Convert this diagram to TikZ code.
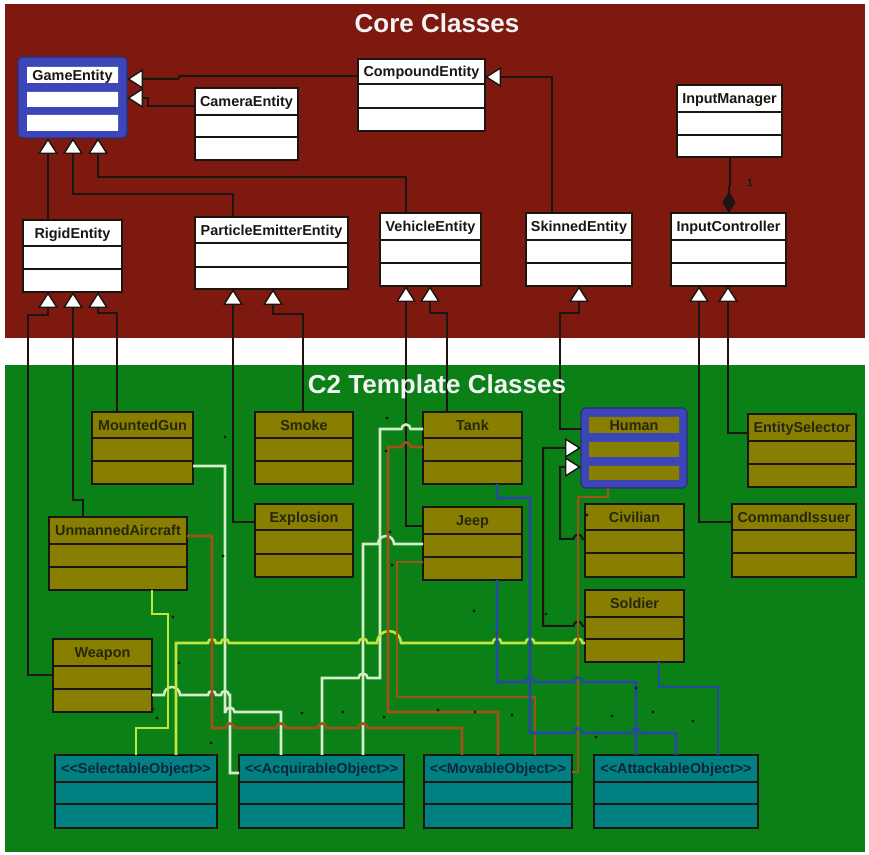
\documentclass[tikz,border=0pt]{standalone}
\usepackage{fontspec}
\newfontfamily\umlfont{Liberation Sans}
\usetikzlibrary{arrows.meta}

\definecolor{corebg}{RGB}{126,25,16}
\definecolor{tplbg}{RGB}{10,128,22}
\definecolor{boxolive}{RGB}{136,126,0}
\definecolor{boxteal}{RGB}{0,128,128}
\definecolor{frameblue}{RGB}{60,70,185}
\definecolor{ink}{RGB}{28,22,18}
\definecolor{paleline}{RGB}{212,238,202}
\definecolor{yellowline}{RGB}{196,230,60}
\definecolor{brownline}{RGB}{160,82,24}
\definecolor{blueline}{RGB}{40,72,165}
\definecolor{navytext}{RGB}{12,36,64}
\definecolor{olivetext}{RGB}{40,38,10}
\definecolor{titletext}{RGB}{244,244,244}

% line jumps on horizontal runs: centre x, y, radius
\newcommand\hopR[3]{-- ({#1-#3},#2) arc[start angle=180,end angle=360,radius=#3]}
\newcommand\hopL[3]{-- ({#1+#3},#2) arc[start angle=0,end angle=-180,radius=#3]}

% class box: name, x1, y1, x2, y2, divider 1, divider 2, label, style
\newcommand\umlclass[9]{%
  \pgfmathsetmacro\clsw{(#4-#2)*0.75}%
  \pgfmathsetmacro\clsh{(#5-#3)*0.75}%
  \node[classbox,#9,minimum width=\clsw pt,minimum height=\clsh pt] (#1) at ({(#2+#4)/2},{(#3+#5)/2}) {};
  \draw[classbox,fill=none] (#2,#6) -- (#4,#6) (#2,#7) -- (#4,#7);
  \node[classname,#9,fill=none,draw=none] (#1-name) at ({(#2+#4)/2},{(#3+#6)/2}) {#8};
}

\tikzset{
  classbox/.style={draw=ink, line width=1.2pt, inner sep=0pt, outer sep=0pt},
  whitecls/.style={fill=white, text=ink},
  olivecls/.style={fill=boxolive, text=olivetext},
  tealcls/.style={fill=boxteal, text=navytext},
  classname/.style={font=\umlfont\bfseries\fontsize{10.8}{12}\selectfont,
    inner sep=0pt, text height=7.7pt, text depth=0pt},
  emphframe/.style={fill=frameblue, draw=frameblue!65!black, line width=0.8pt,
    rounded corners=3.5pt, inner sep=0pt, outer sep=0pt},
  inh/.style={draw=ink, line width=1.5pt, -{Triangle[length=12pt,width=15pt,fill=white,line width=1.1pt]}},
  comp/.style={draw=ink, line width=1.5pt, -{Diamond[length=16pt,width=10pt,fill=ink]}},
  wire/.style={line width=1.9pt},
  palewire/.style={wire, draw=paleline},
  yellowwire/.style={wire, draw=yellowline},
  brownwire/.style={wire, draw=brownline},
  bluewire/.style={wire, draw=blueline},
  sectiontitle/.style={font=\umlfont\bfseries\fontsize{19.5}{22}\selectfont, text=titletext, inner sep=0pt},
}

\begin{document}
\begin{tikzpicture}[x=0.75pt,y=-0.75pt]
\useasboundingbox (0,0) rectangle (869,855);
\fill[white] (0,0) rectangle (869,855);
\fill[corebg] (5,4) rectangle (865,338);
\fill[tplbg] (5,365) rectangle (865,852);

% ---------- core classes ----------
\node[emphframe, minimum width=81.75pt, minimum height=60.75pt] (gameentity) at (72.5,97.5) {};
\fill[white] (27,67) rectangle (118,83) (27,92) rectangle (118,107) (27,115) rectangle (118,131);
\node[classname, text=ink] (gameentity-name) at (72.5,75) {GameEntity};

\umlclass{camera}{195}{88}{298}{160}{115}{137}{CameraEntity}{whitecls}
\umlclass{compound}{358}{59}{485}{131}{84}{108}{CompoundEntity}{whitecls}
\umlclass{inputmanager}{677}{85}{782}{157}{112}{135}{InputManager}{whitecls}
\umlclass{rigid}{23}{220}{122}{292}{246}{269}{RigidEntity}{whitecls}
\umlclass{particle}{195}{217}{348}{289}{243}{267}{ParticleEmitterEntity}{whitecls}
\umlclass{vehicle}{380}{213}{481}{286}{240}{263}{VehicleEntity}{whitecls}
\umlclass{skinned}{526}{213}{632}{286}{240}{263}{SkinnedEntity}{whitecls}
\umlclass{inputctrl}{671}{213}{786}{286}{240}{263}{InputController}{whitecls}

% ---------- template classes ----------
\umlclass{mountedgun}{92}{412}{193}{484}{438}{461}{MountedGun}{olivecls}
\umlclass{smoke}{255}{412}{353}{484}{438}{461}{Smoke}{olivecls}
\umlclass{tank}{423}{412}{522}{484}{438}{461}{Tank}{olivecls}
\umlclass{entitysel}{748}{414}{856}{487}{441}{464}{EntitySelector}{olivecls}
\umlclass{explosion}{255}{504}{353}{577}{530}{554}{Explosion}{olivecls}
\umlclass{jeep}{423}{507}{522}{580}{534}{557}{Jeep}{olivecls}
\umlclass{civilian}{585}{504}{684}{577}{530}{553}{Civilian}{olivecls}
\umlclass{commandiss}{732}{504}{856}{577}{530}{553}{CommandIssuer}{olivecls}
\umlclass{unmanned}{49}{517}{187}{590}{544}{567}{UnmannedAircraft}{olivecls}
\umlclass{soldier}{585}{590}{684}{662}{617}{639}{Soldier}{olivecls}
\umlclass{weapon}{53}{639}{152}{712}{666}{689}{Weapon}{olivecls}

\node[emphframe, minimum width=79.5pt, minimum height=60pt] (human) at (634,448) {};
\fill[boxolive] (589,417) rectangle (679,433) (589,442) rectangle (679,457) (589,466) rectangle (679,480);
\node[classname, text=olivetext] (human-name) at (634,425) {Human};

\umlclass{selectable}{55}{755}{217}{828}{782}{804}{<<SelectableObject>>}{tealcls}
\umlclass{acquirable}{239}{755}{404}{828}{782}{804}{<<AcquirableObject>>}{tealcls}
\umlclass{movable}{424}{755}{572}{828}{782}{804}{<<MovableObject>>}{tealcls}
\umlclass{attackable}{594}{755}{758}{828}{782}{804}{<<AttackableObject>>}{tealcls}

% ---------- generalisations inside the core ----------
\draw[inh] (compound.west |- 0,76) -- (180,76) -- (178,79) -- (gameentity.east |- 0,79);
\draw[inh] (camera.west |- 0,106) -- (148,106) -- (148,98) -- (gameentity.east |- 0,98);
\draw[inh] (rigid.north -| 48,0) -- (gameentity.south -| 48,0);
\draw[inh] (particle.north -| 233,0) -- (233,194) -- (73,194) -- (gameentity.south -| 73,0);
\draw[inh] (vehicle.north -| 406,0) -- (406,177) -- (98,177) -- (gameentity.south -| 98,0);
\draw[inh] (skinned.north -| 552,0) -- (552,77) -- (compound.east |- 0,77);
\draw[comp] (inputmanager.south -| 730,0) -- (730,185) -- (729,188) -- (inputctrl.north -| 729,0);
\node[font=\umlfont\bfseries\fontsize{8}{9}\selectfont, text=ink, inner sep=0pt] (mult) at (750,183) {1};

% ---------- template classes to their core parents ----------
\draw[inh] (weapon.west |- 0,675) -- (28,675) -- (28,315) -- (48,315) -- (rigid.south -| 48,0);
\draw[inh] (unmanned.north -| 83,0) -- (83,500) -- (73,500) -- (rigid.south -| 73,0);
\draw[inh] (mountedgun.north -| 117,0) -- (117,313) -- (98,313) -- (rigid.south -| 98,0);
\draw[inh] (explosion.west |- 0,522) -- (233,522) -- (particle.south -| 233,0);
\draw[inh] (smoke.north -| 303,0) -- (303,314) -- (273,314) -- (particle.south -| 273,0);
\draw[inh] (jeep.west |- 0,526) -- (406,526) -- (vehicle.south -| 406,0);
\draw[inh] (tank.north -| 447,0) -- (447,313) -- (430,313) -- (vehicle.south -| 430,0);
\draw[inh] (human.west |- 0,429) -- (560,429) -- (560,313) -- (579,313) -- (skinned.south -| 579,0);
\draw[inh] (commandiss.west |- 0,522) -- (699,522) -- (inputctrl.south -| 699,0);
\draw[inh] (entitysel.west |- 0,433) -- (728,433) -- (inputctrl.south -| 728,0);
\draw[inh] (civilian.west |- 0,539) \hopL{578}{539}{4.5} -- (560,539) -- (560,467) -- (human.west |- 0,467);
\draw[inh] (soldier.west |- 0,626) \hopL{578}{626}{4.5} -- (543,626) -- (543,448) -- (human.west |- 0,448);

% ---------- interface links ----------
% acquirable
\draw[palewire] (mountedgun.east |- 0,466) -- (225,466) -- (225,712) \hopR{230}{712}{4.5} -- (281,712) -- (acquirable.north -| 281,0);
\draw[palewire] (weapon.east |- 0,695) \hopR{172}{695}{8} \hopR{212}{695}{4} \hopR{225}{695}{4} -- (230,695) -- (230,773) -- (acquirable.west |- 0,773);
\draw[palewire] (tank.west |- 0,429) \hopL{406}{429}{4.5} -- (380,429) -- (380,678) \hopL{363}{678}{4.5} -- (322,678) -- (acquirable.north -| 322,0);
\draw[palewire] (jeep.west |- 0,544) \hopL{386}{544}{8} -- (363,544) -- (acquirable.north -| 363,0);
% selectable
\draw[yellowwire] (unmanned.south -| 152,0) -- (152,614) -- (168,614) -- (168,728) -- (136,728) -- (selectable.north -| 136,0);
\draw[yellowwire] (soldier.west |- 0,643) \hopL{578}{643}{4.5} \hopL{530}{643}{4.5} \hopL{497}{643}{4.5} \hopL{389}{643}{12} \hopL{363}{643}{4.5} \hopL{225}{643}{4} \hopL{212}{643}{4} -- (176,643) -- (selectable.north -| 176,0);
% movable
\draw[brownwire] (unmanned.east |- 0,536) -- (212,536) -- (212,728) \hopR{230}{728}{4.5} \hopR{281}{728}{4.5} \hopR{322}{728}{4.5} \hopR{363}{728}{4.5} -- (462,728) -- (movable.north -| 462,0);
\draw[brownwire] (tank.west |- 0,447) \hopL{406}{447}{4.5} -- (388,447) -- (388,712) -- (498,712) -- (movable.north -| 498,0);
\draw[brownwire] (jeep.west |- 0,562) -- (397,562) -- (397,697) -- (535,697) -- (movable.north -| 535,0);
\draw[brownwire] (human.south -| 608,0) -- (608,497) -- (578,497) -- (578,772) -- (movable.east |- 0,772);
% attackable
\draw[bluewire] (jeep.south -| 497,0) -- (497,682) \hopR{530}{682}{4.5} \hopR{578}{682}{4.5} -- (636,682) -- (attackable.north -| 636,0);
\draw[bluewire] (tank.south -| 497,0) -- (497,498) -- (530,498) -- (530,733) \hopR{578}{733}{4.5} \hopR{636}{733}{4.5} -- (676,733) -- (attackable.north -| 676,0);
\draw[bluewire] (soldier.south -| 659,0) -- (659,687) -- (718,687) -- (attackable.north -| 718,0);

% small end markers
\foreach \px/\py in {225/437, 223/556, 173/617, 179/663, 153/709, 157/718, 211/743,
  302/713, 343/712, 384/717, 387/418, 386/451, 390/532, 392/565, 474/611, 546/614,
  438/710, 475/712, 512/715, 612/716, 653/712, 693/721, 636/688, 596/737, 587/515}
  \fill[ink] (\px,\py) circle[radius=1.6];

% ---------- section titles ----------
\node[sectiontitle] (coretitle) at (437,23) {Core Classes};
\node[sectiontitle] (tpltitle) at (437,387) {C2 Template Classes};
\end{tikzpicture}
\end{document}
